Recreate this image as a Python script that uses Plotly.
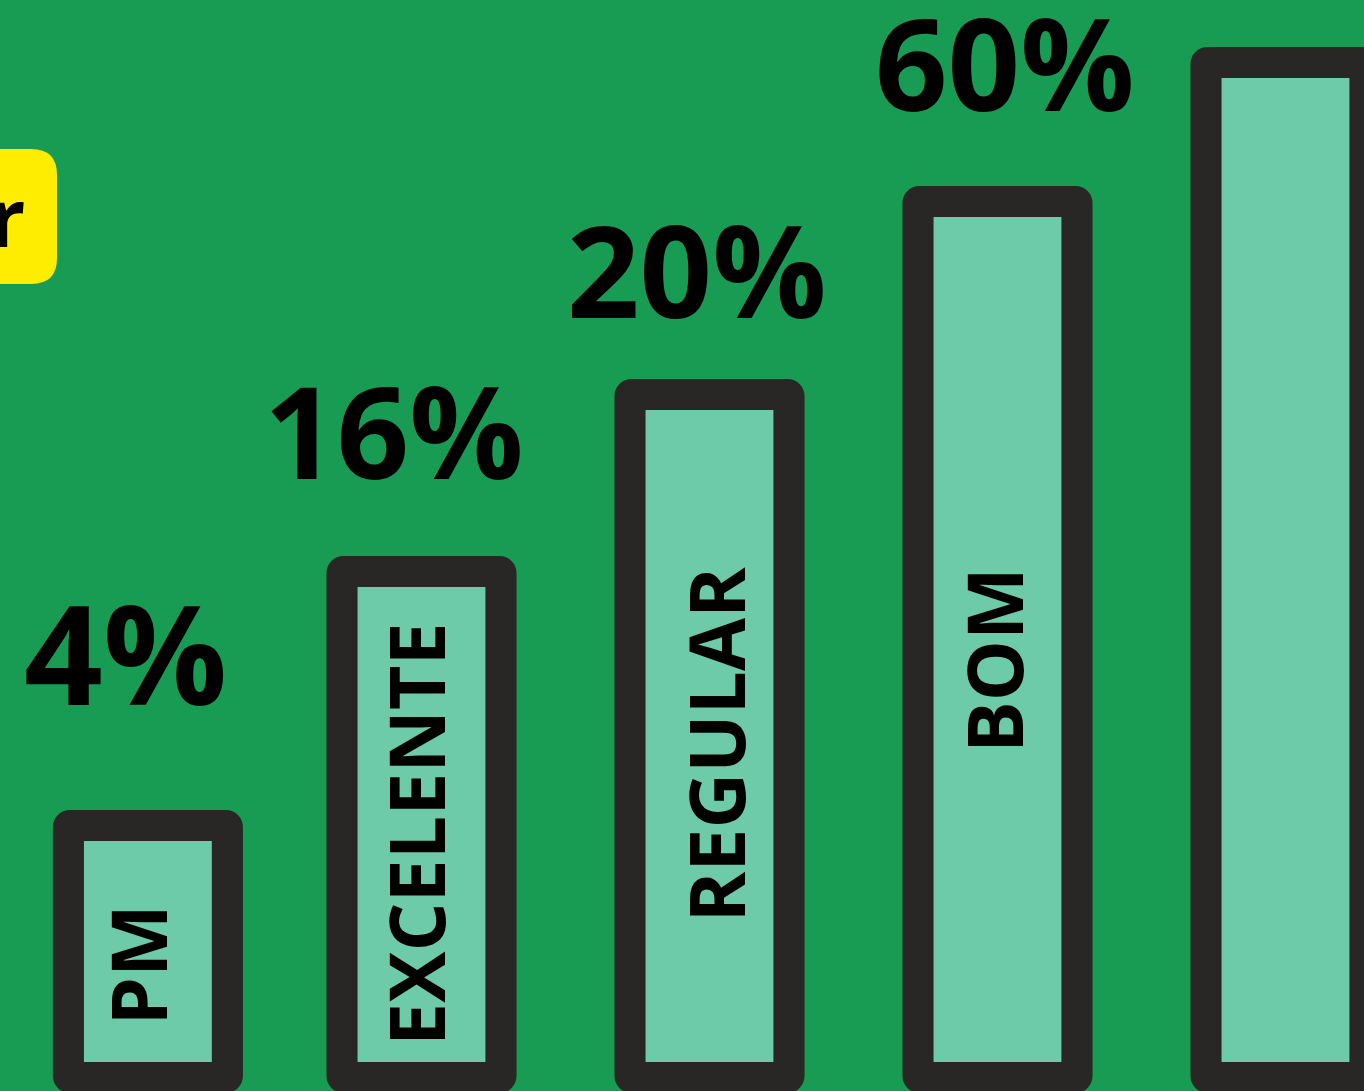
import plotly.graph_objects as go

# ---- data ----
categories = ["PM", "EXCELENTE", "REGULAR", "BOM", ""]
percent_labels = ["4%", "16%", "20%", "60%", ""]
bar_heights = [221, 475, 652, 845, 984]   # visual bar heights (arbitrary units)
positions = [0.05, 1, 2, 3, 4]

# ---- style ----
BG = "#189C54"
EDGE = "#282726"
FILL = "#6DCBA9"
YELLOW = "#FFED00"
BORDER = 31
FONT = "Open Sans"
label_dx = [-22, -27, -12, 8, 0]
label_dy = [63, 38, 22, 36, 0]
label_size = [138, 127, 127, 127, 127]
inner_dx = [-10, -6, 6, -4, 0]
inner_dy = [-13, -9, -8, -20, 0]

W, H = 1364, 1091
y_lo, y_hi = -29, 1062
x_lo = -0.4635
x_hi = x_lo + W / 288.0

outer_vals = [h + 2 * BORDER for h in bar_heights]
outer_base = [-BORDER] * len(bar_heights)

fig = go.Figure()
fig.add_trace(go.Bar(
    x=positions, y=outer_vals, base=outer_base, width=0.66,
    marker=dict(color=EDGE, line=dict(width=0), cornerradius=17),
    hoverinfo="skip", showlegend=False,
))
fig.add_trace(go.Bar(
    x=positions, y=bar_heights, base=[0] * len(bar_heights), width=0.444,
    marker=dict(color=FILL, line=dict(width=0)),
    hoverinfo="skip", showlegend=False,
))

annotations = []
for i, (p, h, c) in enumerate(zip(positions, bar_heights, categories)):
    if not c:
        continue
    annotations.append(dict(
        x=p, y=h / 2, text=c, showarrow=False, textangle=-90,
        xanchor="center", yanchor="middle", xshift=inner_dx[i], yshift=inner_dy[i],
        font=dict(family=FONT, size=77, color="black", weight="bold"),
    ))
for i, (p, h, t) in enumerate(zip(positions, outer_vals, percent_labels)):
    if not t:
        continue
    annotations.append(dict(
        x=p, y=h - BORDER, text=t, showarrow=False, xanchor="center", yanchor="bottom",
        xshift=label_dx[i], yshift=label_dy[i],
        font=dict(family=FONT, size=label_size[i], color="black", weight="bold"),
    ))

# yellow tag at left (cut by page edge)
def px(x):
    return x / W
def py(y):
    return 1 - y / H
L, R, T, B, r = -100, 57, 149, 284, 26
path = (f"M {px(L)},{py(T)} L {px(R - r)},{py(T)} Q {px(R)},{py(T)} {px(R)},{py(T + r)} "
        f"L {px(R)},{py(B - r)} Q {px(R)},{py(B)} {px(R - r)},{py(B)} L {px(L)},{py(B)} Z")
shapes = [dict(type="path", xref="paper", yref="paper", path=path,
               fillcolor=YELLOW, line=dict(width=0), layer="below")]
annotations.append(dict(
    x=px(27), y=py(216), xref="paper", yref="paper", text="r", showarrow=False,
    xanchor="right", yanchor="middle",
    font=dict(family=FONT, size=80, color="black", weight="bold"),
))

fig.update_layout(
    width=W, height=H, margin=dict(l=0, r=0, t=0, b=0),
    paper_bgcolor=BG, plot_bgcolor=BG, barmode="overlay",
    xaxis=dict(range=[x_lo, x_hi], visible=False, fixedrange=True),
    yaxis=dict(range=[y_lo, y_hi], visible=False, fixedrange=True),
    annotations=annotations, shapes=shapes,
)

fig.write_html("out.html", config={"displayModeBar": False},
               post_script="document.body.style.margin='0';document.body.style.overflow='hidden';")
